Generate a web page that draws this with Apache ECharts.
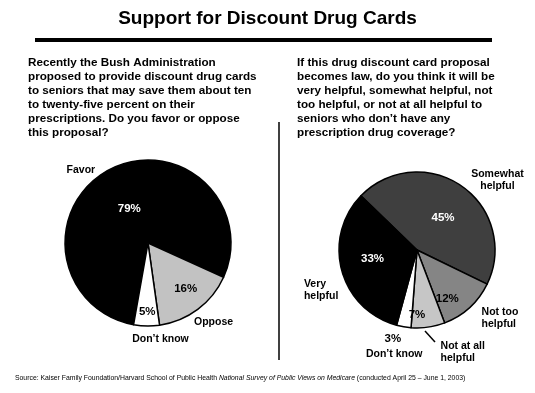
<!DOCTYPE html>
<html>
<head>
<meta charset="utf-8">
<script src="https://cdn.jsdelivr.net/npm/echarts@6.0.0/dist/echarts.min.js"></script>
<style>
html,body{margin:0;padding:0;background:#fff;}
#chart{width:535px;height:393px;}
</style>
</head>
<body>
<div id="chart"></div>
<script>
// ---- data ----
const titleText = 'Support for Discount Drug Cards';
const leftQuestion = [
  'Recently the Bush Administration',
  'proposed to provide discount drug cards',
  'to seniors that may save them about ten',
  'to twenty-five percent on their',
  'prescriptions. Do you favor or oppose',
  'this proposal?'
];
const rightQuestion = [
  'If this drug discount card proposal',
  'becomes law, do you think it will be',
  'very helpful, somewhat helpful, not',
  'too helpful, or not at all helpful to',
  'seniors who don’t have any',
  'prescription drug coverage?'
];
const leftCategories = ['Favor', 'Oppose', 'Don’t know'];
const leftValues = [79, 16, 5];
const rightCategories = ['Somewhat helpful', 'Not too helpful', 'Not at all helpful', 'Don’t know', 'Very helpful'];
const rightValues = [45, 12, 7, 3, 33];
const sourcePlain1 = 'Source: Kaiser Family Foundation/Harvard School of Public Health ';
const sourceItalic = 'National Survey of Public Views on Medicare';
const sourcePlain2 = ' (conducted April 25 – June 1, 2003)';

// ---- styles ----
const FONT = "'Liberation Sans', Arial, sans-serif";
const leftColors = ['#000000', '#c2c2c2', '#ffffff'];
const leftPctColors = ['#ffffff', '#000000', '#000000'];
const leftPctOffsets = [[2, 5], [11, 10], [0, 24]];
const leftCatOffsets = [[-27, 3], [14, 10], [14, 10]];
const leftCatAlign = ['center', 'center', 'center'];

const rightColors = ['#3f3f3f', '#858585', '#c6c6c6', '#ffffff', '#000000'];
const rightPctColors = ['#ffffff', '#000000', '#000000', '#000000', '#ffffff'];
const rightPctOffsets = [[2, 2], [2, 18], [-6, 23], [-17, 47], [-4, -2]];
const rightCatOffsets = [[34, -4], [10, 8], [12, 22], [-9, 24], [-35, 19]];
const rightCatAlign = ['center', 'left', 'left', 'center', 'left'];

function wrapName(n) {
  return n.replace(' helpful', '\nhelpful');
}

function pieSeries(cats, vals, colors, pctColors, center, r, startAngle, pctOff) {
  return {
    type: 'pie',
    center: center,
    radius: [0, r],
    startAngle: startAngle,
    clockwise: true,
    avoidLabelOverlap: false,
    silent: true,
    animation: false,
    z: 2,
    data: cats.map((c, i) => ({
      name: c, value: vals[i],
      itemStyle: { color: colors[i], borderColor: '#000', borderWidth: 1.5 },
      label: { color: pctColors[i] }
    })),
    label: {
      show: true, position: 'inside', formatter: '{c}%',
      fontFamily: FONT, fontWeight: 'bold', fontSize: 11.5
    },
    labelLine: { show: false },
    labelLayout: p => ({ dx: pctOff[p.dataIndex][0], dy: pctOff[p.dataIndex][1] })
  };
}

function catSeries(cats, vals, center, r, startAngle, off, aligns) {
  return {
    type: 'pie',
    center: center,
    radius: [0, r * 2],
    startAngle: startAngle,
    clockwise: true,
    avoidLabelOverlap: false,
    silent: true,
    animation: false,
    z: 3,
    data: cats.map((c, i) => ({
      name: c, value: vals[i],
      itemStyle: { color: 'rgba(0,0,0,0)', borderWidth: 0 }
    })),
    label: {
      show: true, position: 'inside',
      formatter: p => wrapName(p.name),
      fontFamily: FONT, fontWeight: 'bold', fontSize: 10.5, lineHeight: 12, color: '#000'
    },
    labelLine: { show: false },
    labelLayout: p => ({ dx: off[p.dataIndex][0], dy: off[p.dataIndex][1], align: aligns[p.dataIndex] })
  };
}

const chart = echarts.init(document.getElementById('chart'), null, { renderer: 'canvas' });

const leftCenter = [148, 243], leftR = 83, leftStart = 260;
const rightCenter = [417, 250], rightR = 78, rightStart = 136;

chart.setOption({
  backgroundColor: '#ffffff',
  animation: false,
  graphic: [
    { type: 'text', left: 'center', top: 9,
      style: { text: titleText, font: 'bold 19px ' + FONT, fill: '#000' } },
    { type: 'rect', shape: { x: 35, y: 38, width: 457, height: 4 }, style: { fill: '#000' } },
    { type: 'text', x: 28, y: 56,
      style: { text: leftQuestion.join('\n'), font: 'bold 11.7px ' + FONT, lineHeight: 14, fill: '#000', verticalAlign: 'top' } },
    { type: 'text', x: 297, y: 56,
      style: { text: rightQuestion.join('\n'), font: 'bold 11.7px ' + FONT, lineHeight: 14, fill: '#000', verticalAlign: 'top' } },
    { type: 'line', shape: { x1: 279, y1: 122, x2: 279, y2: 360 }, style: { stroke: '#000', lineWidth: 1.5 } },
    { type: 'line', shape: { x1: 425, y1: 331, x2: 435, y2: 342 }, style: { stroke: '#000', lineWidth: 1.5 } },
    { type: 'text', x: 15, y: 378,
      style: {
        text: '{n|' + sourcePlain1 + '}{i|' + sourceItalic + '}{n|' + sourcePlain2 + '}',
        verticalAlign: 'middle',
        rich: {
          n: { fontFamily: FONT, fontSize: 6.85, fill: '#000' },
          i: { fontFamily: FONT, fontSize: 6.85, fontStyle: 'italic', fill: '#000' }
        }
      } }
  ],
  series: [
    pieSeries(leftCategories, leftValues, leftColors, leftPctColors, leftCenter, leftR, leftStart, leftPctOffsets),
    catSeries(leftCategories, leftValues, leftCenter, leftR, leftStart, leftCatOffsets, leftCatAlign),
    pieSeries(rightCategories, rightValues, rightColors, rightPctColors, rightCenter, rightR, rightStart, rightPctOffsets),
    catSeries(rightCategories, rightValues, rightCenter, rightR, rightStart, rightCatOffsets, rightCatAlign)
  ]
});
</script>
</body>
</html>
